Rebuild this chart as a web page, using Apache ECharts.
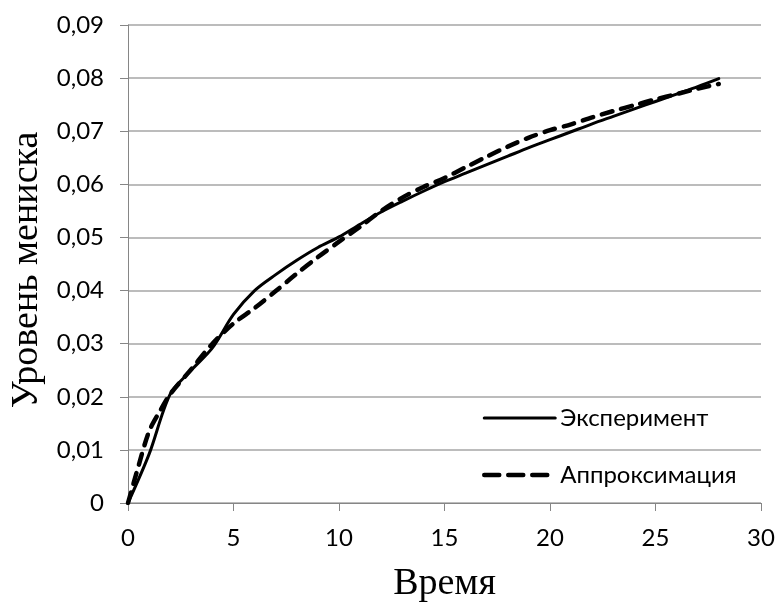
<!DOCTYPE html>
<html>
<head>
<meta charset="utf-8">
<script src="https://cdn.jsdelivr.net/npm/echarts@6/dist/echarts.min.js"></script>
<style>
  html, body { margin: 0; padding: 0; background: #fff; }
  #chart { width: 777px; height: 603px; }
</style>
</head>
<body>
<div id="chart"></div>
<script>
// Measured meniscus level over time
const expTime  = [0, 1, 2, 3, 4, 5, 6, 7, 8, 9, 10, 11, 12, 13, 14, 15, 16, 17, 18, 19, 20, 21, 22, 23, 24, 25, 26, 27, 28];
const expLevel = [0, 0.0092, 0.0205, 0.0250, 0.0292, 0.0355, 0.0400, 0.0430, 0.0457, 0.0481, 0.0501,
                  0.0525, 0.0548, 0.0568, 0.0587, 0.0605, 0.0621, 0.0637, 0.0653, 0.0669, 0.0684,
                  0.0699, 0.0714, 0.0728, 0.0742, 0.0756, 0.0770, 0.0784, 0.0799];

// Approximating curve
const fitTime  = [0, 0.5, 1, 1.5, 2, 3, 4, 5, 6, 7, 8, 9, 10, 11, 12, 13, 14, 15, 16, 17, 18, 19, 20, 21, 22, 23, 24, 25, 26, 27, 28];
const fitLevel = [0, 0.0070, 0.0135, 0.0172, 0.0205, 0.0252, 0.0300, 0.0338, 0.0367, 0.0399, 0.0432, 0.0463,
                  0.0492, 0.0520, 0.0550, 0.0575, 0.0595, 0.0612, 0.0632, 0.0652, 0.0671, 0.0688, 0.0702,
                  0.0713, 0.0726, 0.0738, 0.0749, 0.0760, 0.0770, 0.0780, 0.0789];

const seriesNames = ['Эксперимент', 'Аппроксимация'];
const xTitle = 'Время';
const yTitle = 'Уровень мениска';

const pairs = (xs, ys) => xs.map((x, i) => [x, ys[i]]);

const chart = echarts.init(document.getElementById('chart'), null, { renderer: 'canvas' });

const axisColor = '#868686';
const gridColor = '#a6a6a6';
const labelFont = { fontFamily: 'Lato', fontSize: 24, color: '#000' };
const titleFont = { fontFamily: 'Liberation Serif', fontSize: 38, color: '#000' };

const solidStyle = { color: '#000', width: 3, cap: 'round', join: 'round' };
const dashStyle = { color: '#000', width: 4.5, type: [11, 9], cap: 'round', join: 'round' };

chart.setOption({
  animation: false,
  backgroundColor: '#fff',
  grid: { left: 128, right: 16, top: 25, bottom: 100, containLabel: false, outerBoundsMode: 'none' },
  xAxis: {
    type: 'value',
    min: 0, max: 30, interval: 5,
    name: xTitle,
    nameLocation: 'middle',
    nameGap: 62,
    nameTextStyle: titleFont,
    axisLine: { show: true, lineStyle: { color: axisColor, width: 1 } },
    axisTick: { show: true, length: 8, lineStyle: { color: axisColor } },
    axisLabel: Object.assign({ margin: 23 }, labelFont),
    splitLine: { show: false }
  },
  yAxis: {
    type: 'value',
    min: 0, max: 0.09, interval: 0.01,
    name: yTitle,
    nameLocation: 'middle',
    nameGap: 58,
    nameRotate: 90,
    nameTextStyle: Object.assign({ padding: [0, 12, 0, 0] }, titleFont),
    axisLine: { show: true, lineStyle: { color: axisColor, width: 1 } },
    axisTick: { show: true, length: 8, lineStyle: { color: axisColor } },
    axisLabel: Object.assign({
      margin: 24,
      formatter: v => v === 0 ? '0' : v.toFixed(2).replace('.', ',')
    }, labelFont),
    splitLine: { show: true, lineStyle: { color: gridColor, width: 1.5 } }
  },
  legend: {
    orient: 'vertical',
    left: 477,
    top: 401,
    itemWidth: 71,
    itemHeight: 14,
    itemGap: 33,
    itemStyle: { opacity: 0 },
    textStyle: { fontFamily: 'Lato', fontSize: 24, color: '#000' },
    data: [
      { name: seriesNames[0], lineStyle: solidStyle },
      { name: seriesNames[1], lineStyle: { color: '#000', width: 4.5, type: [15, 9], cap: 'round' } }
    ]
  },
  series: [
    {
      name: seriesNames[0],
      type: 'line',
      data: pairs(expTime, expLevel),
      smooth: 0.3,
      showSymbol: false,
      symbol: 'none',
      lineStyle: solidStyle,
      itemStyle: { color: '#000' },
      z: 3
    },
    {
      name: seriesNames[1],
      type: 'line',
      data: pairs(fitTime, fitLevel),
      smooth: 0.3,
      showSymbol: false,
      symbol: 'none',
      lineStyle: dashStyle,
      itemStyle: { color: '#000' },
      z: 2
    }
  ]
});
</script>
</body>
</html>
